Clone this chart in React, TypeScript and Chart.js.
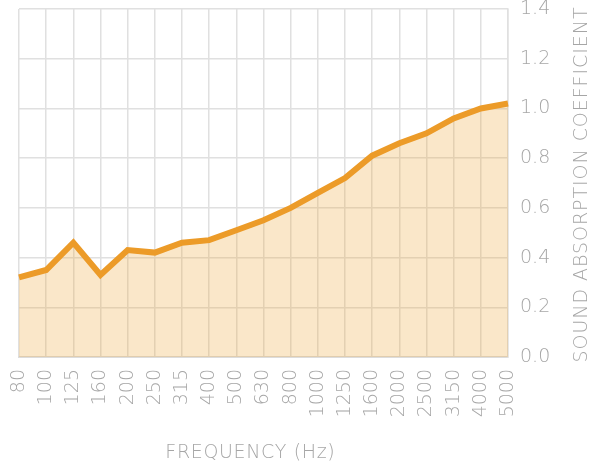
import React, { useEffect, useRef } from "react";
import { Chart, registerables } from "chart.js";

Chart.register(...registerables);

const categories = ["80", "100", "125", "160", "200", "250", "315", "400", "500", "630", "800", "1000", "1250", "1600", "2000", "2500", "3150", "4000", "5000"];
const absorption = [0.32, 0.35, 0.46, 0.33, 0.43, 0.42, 0.46, 0.47, 0.51, 0.55, 0.60, 0.66, 0.72, 0.81, 0.86, 0.90, 0.96, 1.00, 1.02];
const xTitle = "FREQUENCY (Hz)";
const yTitle = "SOUND ABSORPTION COEFFICIENT";

const FONT = "'DejaVu Sans', 'Noto Sans', sans-serif";
const TEXT = "#a6a6a6";

function drawSpaced(ctx: any, text: string, cx: number, cy: number, target: number) {
  ctx.letterSpacing = "0px";
  const w = ctx.measureText(text).width;
  const n = text.length;
  const sp = (target - w) / n;
  ctx.letterSpacing = `${sp}px`;
  const w2 = ctx.measureText(text).width;
  ctx.textAlign = "left";
  ctx.fillText(text, cx - (w2 - sp) / 2, cy);
  ctx.letterSpacing = "0px";
}

export default function App() {
  const ref = useRef<HTMLCanvasElement | null>(null);
  useEffect(() => {
    if (!ref.current) return;
    const titles = {
      id: "titles",
      afterDraw(chart: any) {
        const ctx = chart.ctx;
        ctx.save();
        ctx.fillStyle = TEXT;
        ctx.font = `200 19px ${FONT}`;
        ctx.textBaseline = "middle";
        drawSpaced(ctx, xTitle, 250, 453, 170);
        ctx.translate(582, 185);
        ctx.rotate(-Math.PI / 2);
        drawSpaced(ctx, yTitle, 0, 0, 356);
        ctx.restore();
      },
    };
    const chart = new Chart(ref.current, {
      type: "line",
      data: {
        labels: categories,
        datasets: [
          {
            data: absorption,
            borderColor: "#ec9b28",
            backgroundColor: "rgba(235, 160, 40, 0.25)",
            borderWidth: 6,
            fill: "origin",
            pointRadius: 0,
            tension: 0,
          },
        ],
      },
      options: {
        animation: false,
        responsive: false,
        layout: { padding: { left: 19, top: 9, right: 0, bottom: 0 } },
        plugins: { legend: { display: false }, tooltip: { enabled: false } },
        scales: {
          x: {
            offset: false,
            grid: { color: "#e0e0e0", lineWidth: 1.5, drawTicks: false },
            border: { color: "#dcdcdc", width: 2 },
            ticks: {
              color: TEXT,
              font: { family: FONT, size: 19, weight: 200 },
              minRotation: 90,
              maxRotation: 90,
              padding: 12,
              autoSkip: false,
            },
            afterFit(scale: any) {
              scale.height = 111;
              scale.paddingLeft = 0;
              scale.paddingRight = 0;
            },
          },
          y: {
            position: "right",
            min: 0,
            max: 1.4,
            ticks: {
              stepSize: 0.2,
              color: TEXT,
              font: { family: FONT, size: 19, weight: 200 },
              padding: 12,
              callback: (v: any) => Number(v).toFixed(1),
            },
            grid: { color: "#e0e0e0", lineWidth: 1.5, drawTicks: false },
            border: { color: "#e0e0e0", width: 1.5 },
            afterFit(scale: any) {
              scale.width = 92;
              scale.paddingTop = 0;
              scale.paddingBottom = 0;
            },
          },
        },
      },
      plugins: [titles],
    });
    return () => chart.destroy();
  }, []);
  return (
    <div style={{ position: "fixed", left: 0, top: 0, width: 600, height: 468, background: "#fff" }}>
      <canvas ref={ref} width={600} height={468} style={{ display: "block" }} />
    </div>
  );
}
